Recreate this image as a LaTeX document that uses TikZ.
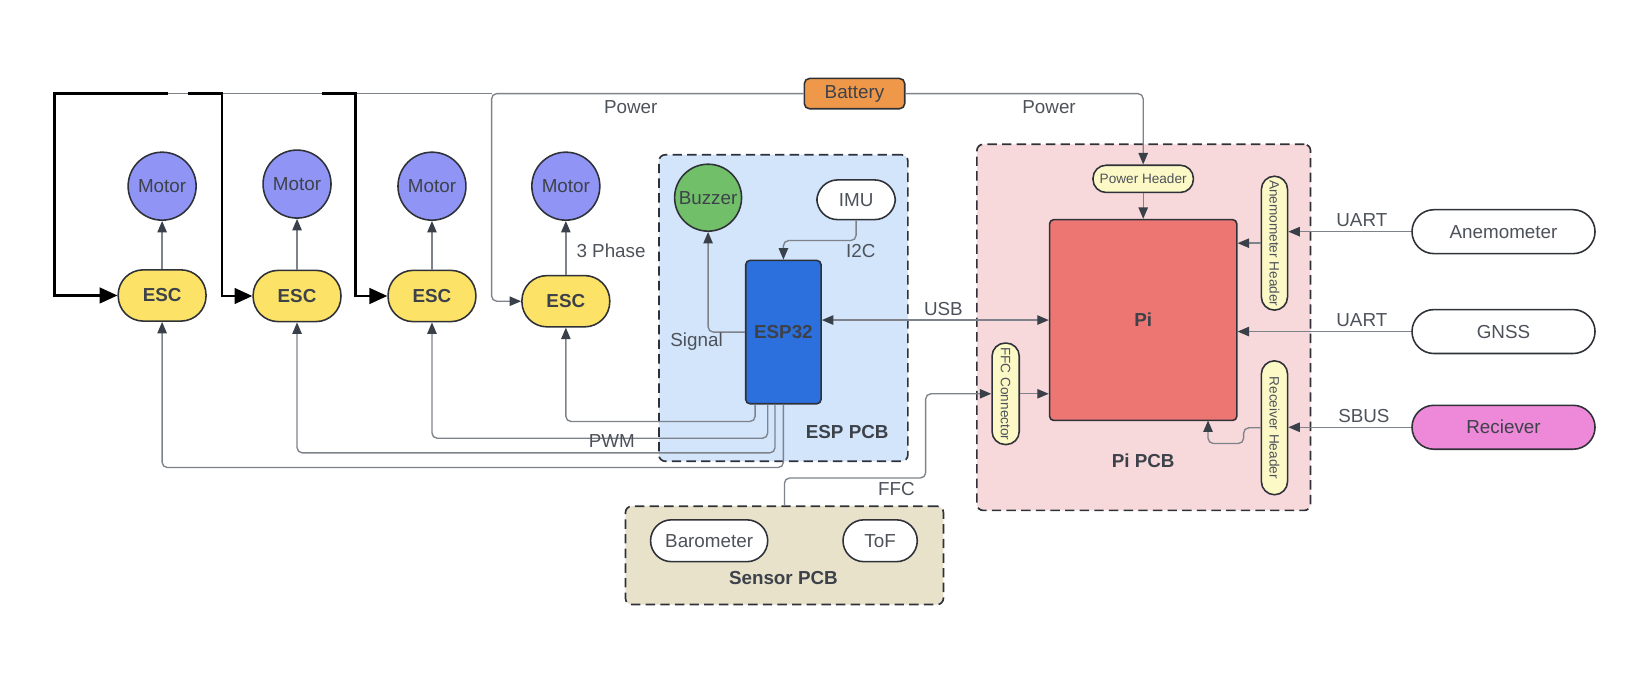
\documentclass[tikz,border=0pt]{standalone}
\usepackage{fontspec}
\setmainfont{Liberation Sans}
\usetikzlibrary{arrows.meta}
\definecolor{lg}{HTML}{7E828A}
\definecolor{ad}{HTML}{3A4049}
\definecolor{bd}{HTML}{2E3238}
\definecolor{tx}{HTML}{4D525A}
\definecolor{tdark}{HTML}{3D424A}
\definecolor{motorc}{HTML}{8F94F5}
\definecolor{escc}{HTML}{FCE266}
\definecolor{espbg}{HTML}{D3E5FB}
\definecolor{buzc}{HTML}{72BF6A}
\definecolor{espc}{HTML}{2B70DC}
\definecolor{pibg}{HTML}{F8D9DB}
\definecolor{pic}{HTML}{EE7672}
\definecolor{hdrc}{HTML}{FCF9C6}
\definecolor{senbg}{HTML}{E8E2CB}
\definecolor{recc}{HTML}{EE88D8}
\definecolor{batc}{HTML}{F0984A}
\begin{document}
\begin{tikzpicture}[x=1pt,y=-1pt,
  every node/.style={inner sep=0pt, text=tx, font=\fontsize{18}{21}\selectfont},
  shp/.style={draw=bd, line width=1.5pt},
  pcb/.style={draw=bd, line width=1.6pt, dash pattern=on 9pt off 5pt, rounded corners=6pt},
  conn/.style={draw=lg, line width=1.3pt, rounded corners=5pt, -{Triangle[length=11pt,width=9pt,color=ad]}},
  plain/.style={draw=lg, line width=1.3pt, rounded corners=5pt},
  bconn/.style={draw=black, line width=2.3pt, -{Triangle[length=17pt,width=15pt]}},
  motor/.style={shp, circle, fill=motorc, minimum size=65pt, text=tdark},
  esc/.style={shp, fill=escc, rounded corners=24pt, minimum width=84pt, minimum height=49pt, text=tdark, font=\bfseries\fontsize{18}{21}\selectfont},
  pill/.style={shp, fill=white, rounded corners=20pt},
  hdr/.style={shp, fill=hdrc, rounded corners=12.5pt},
  hdrtext/.style={font=\fontsize{13}{15}\selectfont, text=tx},
  blbl/.style={font=\bfseries\fontsize{18}{21}\selectfont, text=tdark},
]
\useasboundingbox (0,0) rectangle (1568,652);

% PCBs
\node[pcb, fill=espbg, minimum width=238pt, minimum height=293pt] (esppcb) at (749,294.5) {};
\node[pcb, fill=senbg, minimum width=304pt, minimum height=94pt] (senpcb) at (750,531) {};
\node[pcb, fill=pibg, minimum width=319pt, minimum height=350pt] (pipcb) at (1093.5,313) {};

% Motors and ESCs
\foreach \i/\x/\ey/\my in {1/155/282.5/178, 2/284/283/176, 3/413/283/178, 4/541/288/178}{
  \node[motor] (mot\i) at (\x,\my) {Motor};
  \node[esc] (esc\i) at (\x,\ey) {ESC};
  \draw[conn] (esc\i.north) -- (mot\i.south);
}

% Battery
\node[shp, fill=batc, rounded corners=5pt, minimum width=96pt, minimum height=29pt, text=tdark] (battery) at (817,89.5) {Battery};

% ESP PCB content
\node[shp, circle, fill=buzc, minimum size=64pt, text=tdark] (buzzer) at (677,189) {Buzzer};
\node[pill, minimum width=75pt, minimum height=38pt] (imu) at (818.5,191) {IMU};
\node[shp, fill=espc, rounded corners=4pt, minimum width=72pt, minimum height=137pt, text=tdark, font=\bfseries\fontsize{18}{21}\selectfont] (esp32) at (749,317.5) {ESP32};

% Pi PCB content
\node[shp, fill=pic, rounded corners=4pt, minimum width=179pt, minimum height=192pt, blbl] (pi) at (1093,306) {Pi};
\node[hdr, minimum width=96pt, minimum height=26pt, hdrtext] (pwrh) at (1093,171) {Power Header};
\node[hdr, minimum width=25pt, minimum height=128pt] (anemH) at (1218.5,232.5) {};
\node[hdrtext, rotate=-90] (anemHt) at (anemH) {Anemometer Header};
\node[hdr, minimum width=25pt, minimum height=128pt] (recH) at (1218.5,409) {};
\node[hdrtext, rotate=-90] (recHt) at (recH) {Receiver Header};
\node[hdr, minimum width=26pt, minimum height=97pt] (ffcC) at (961.5,376.5) {};
\node[hdrtext, rotate=-90] (ffcCt) at (ffcC) {FFC Connector};

% Sensor PCB content
\node[pill, minimum width=112pt, minimum height=40pt] (baro) at (678,517) {Barometer};
\node[pill, minimum width=71pt, minimum height=40pt] (tof) at (841.5,517) {ToF};

% External
\node[pill, minimum width=175pt, minimum height=42pt, rounded corners=21pt] (anem) at (1437.5,221.5) {Anemometer};
\node[pill, minimum width=175pt, minimum height=42pt, rounded corners=21pt] (gnss) at (1437.5,317) {GNSS};
\node[pill, fill=recc, minimum width=175pt, minimum height=42pt, rounded corners=21pt, text=tdark] (recv) at (1437.5,408.5) {Reciever};

% Power wiring
\coordinate (pl) at (52,89.5);
\coordinate (pc4) at (470,89.5);
\draw[plain] (pc4) -- (pl);
\draw[conn] (battery.west) -- (pc4) |- (esc4.west);
\draw[bconn] (161,89.5) -- (pl) |- (esc1.west);
\draw[bconn] (180,89.5) -- (212,89.5) |- (esc2.west);
\draw[bconn] (308,89.5) -- (340,89.5) |- (esc3.west);
\draw[conn] (battery.east) -| (pwrh.north);
\draw[conn] (pwrh.south) -- (pi.north);
\node (pwrL) at (603,102) {Power};
\node (pwrR) at (1003,102) {Power};
\node[anchor=west] (ph) at (551,240) {3 Phase};

% ESP connections
\draw[conn] (imu.south) |- (749,230) -- (esp32.north);
\node (i2c) at (823,240) {I2C};
\draw[conn] (esp32.west) -| (buzzer.south);
\node (sig) at (666,327) {Signal};
\draw[conn, {Triangle[length=11pt,width=9pt,color=ad]}-{Triangle[length=11pt,width=9pt,color=ad]}] (pi.west -| esp32.east) -- (pi.west);
\node (usb) at (902,295) {USB};

% PWM
\draw[conn] ([xshift=-27pt]esp32.south) |- (541,403) -- (esc4.south);
\draw[conn] ([xshift=-15pt]esp32.south) |- (413,419) -- (esc3.south);
\draw[conn] ([xshift=-8pt]esp32.south) |- (284,433) -- (esc2.south);
\draw[conn] (esp32.south) |- (155,447) -- (esc1.south);
\node (pwm) at (585,422) {PWM};

% FFC
\draw[conn] (senpcb.north) |- (885,457) |- (ffcC.west);
\node (ffc) at (857,468) {FFC};
\draw[conn] (ffcC.east) -- (pi.west |- ffcC.east);

% Pi connections
\draw[conn] (anem.west) -- (anemH.east |- anem.west);
\draw[conn] (anemH.west) -- (pi.east |- anemH.west);
\draw[conn] (gnss.west) -- (pi.east |- gnss.west);
\draw[conn] (recv.west) -- (recH.east |- recv.west);
\coordinate (piRx) at (1155,402);
\draw[conn] (recH.west) -- (1189,409) -- (1189,424) -- (1155,424) -- (piRx);
\node (u1) at (1302,210) {UART};
\node (u2) at (1302,306) {UART};
\node (sb) at (1304,398) {SBUS};

% PCB labels
\node[blbl] (espl) at (810,413) {ESP PCB};
\node[blbl] (senl) at (749,553) {Sensor PCB};
\node[blbl] (pil) at (1093,441) {Pi PCB};
\end{tikzpicture}
\end{document}
